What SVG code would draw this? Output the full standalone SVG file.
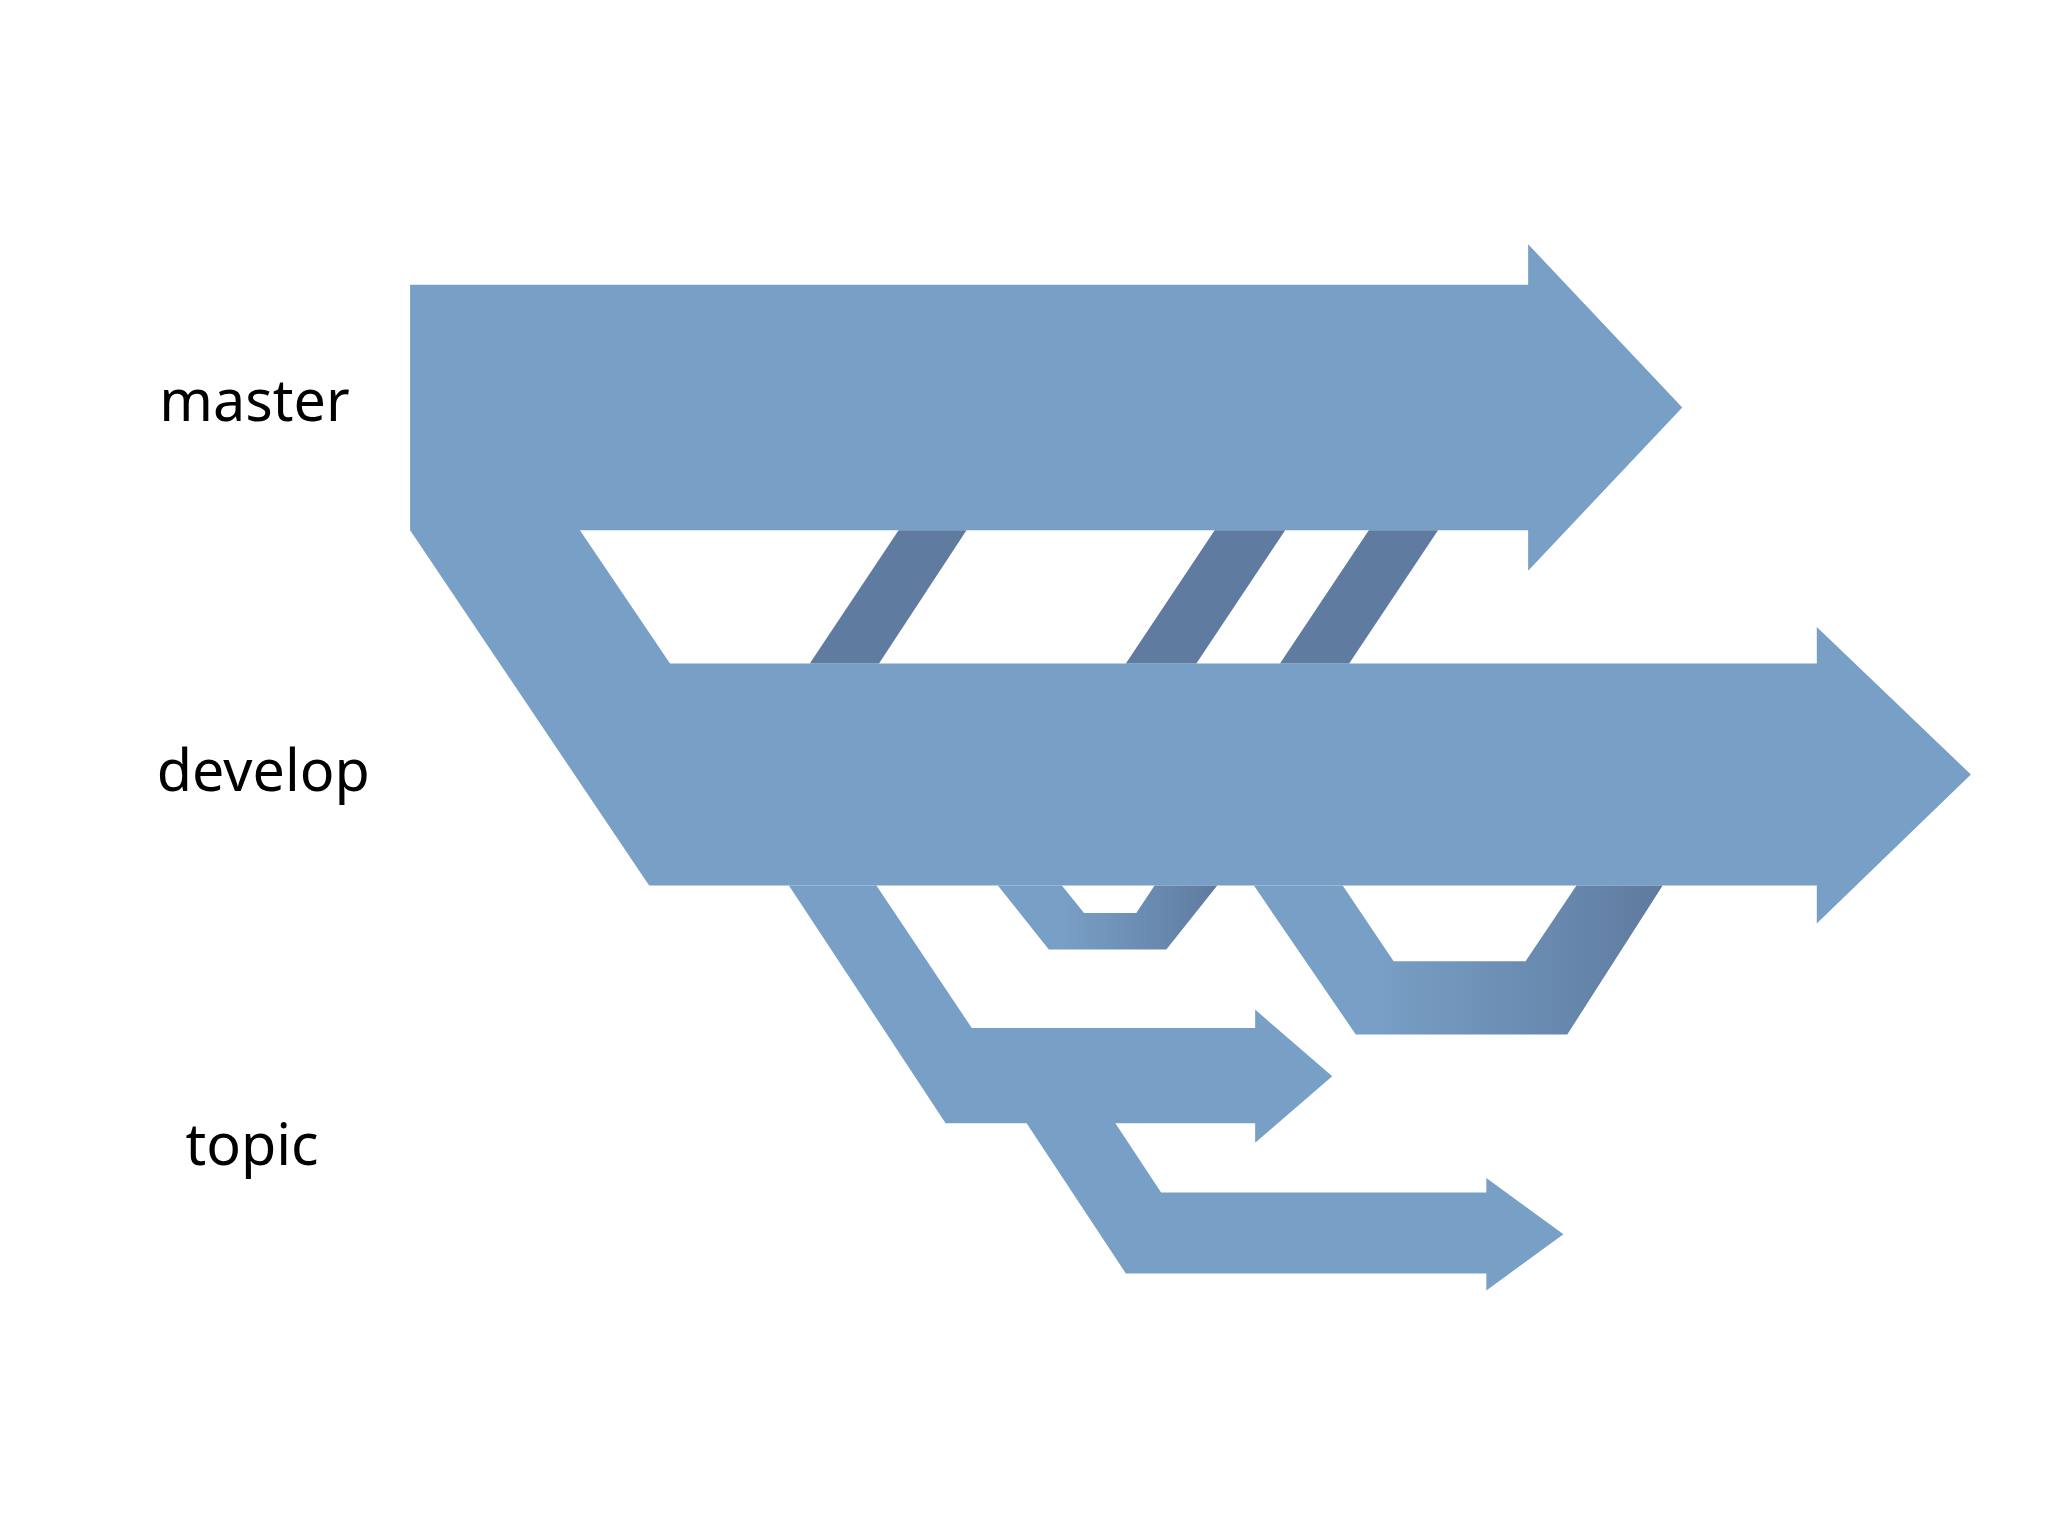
<svg xmlns="http://www.w3.org/2000/svg" width="2048" height="1536" viewBox="0 0 2048 1536">
<defs>
<style>
.b{fill:#789fc6}
.d{fill:#5f7b9f}
.t{font-family:"Noto Sans","DejaVu Sans",sans-serif;font-size:44px;fill:#000}
</style>
<linearGradient id="g1" x1="0" x2="1" y1="0" y2="0"><stop offset="0.3" stop-color="#789fc6"/><stop offset="1" stop-color="#5f7b9f"/></linearGradient>
</defs>
<rect width="2048" height="1536" fill="#fff"/>
<g transform="scale(1.3061)">
<g id="master">
<polygon class="b" points="314,218 1170,218 1170,187 1288,312 1170,437 1170,406 444,406 513,508 497,678 314,406"/>
<text class="t" x="122" y="322">master</text>
</g>
<g id="develop">
<polygon class="b" points="497,508 1391,508 1391,480 1509,593 1391,707 1391,678 497,678"/>
<text class="t" x="120" y="606">develop</text>
</g>
<g id="topic">
<polygon class="b" points="604,678 671,678 744,787 961,787 961,773 1020,824 961,875 961,860 854,860 889,913 1138,913 1138,902 1197,945 1138,988 1138,975 862,975 786,860 724,860"/>
<text class="t" x="142" y="892">topic</text>
</g>
<g id="connectors">
<polygon class="d" points="688,406 740,406 673,508 620,508"/>
<polygon class="d" points="930,406 984,406 916,508 862,508"/>
<polygon class="d" points="1048,406 1101,406 1033,508 980,508"/>
<polygon fill="url(#g1)" points="764,678 813,678 830,699 870,699 884,678 932,678 893,727 803,727"/>
<polygon fill="url(#g1)" points="960,678 1028,678 1067,736 1168,736 1207,678 1273,678 1200,792 1038,792"/>
</g>
</g>
</svg>
